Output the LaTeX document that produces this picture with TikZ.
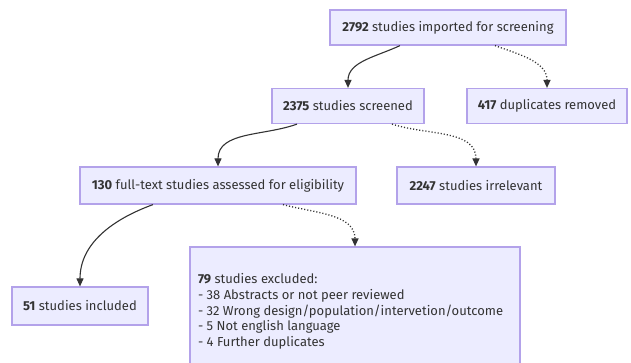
\documentclass[tikz,border=0pt]{standalone}
\usepackage{fontspec}
\setmainfont{Fira Sans}
\usepackage{xcolor}
\usetikzlibrary{arrows.meta}
\definecolor{boxfill}{HTML}{ECECFF}
\definecolor{boxline}{HTML}{B3A2EA}
\definecolor{ink}{HTML}{333333}

\begin{document}
\begin{tikzpicture}[x=1pt, y=-1pt,
  flow/.style={rectangle, draw=boxline, fill=boxfill, line width=1.2pt,
    inner sep=0pt, align=center, font=\fontsize{13}{15}\selectfont, text=ink},
  arr/.style={-{Stealth[length=8pt, width=7pt, inset=0pt]}, line width=1.1pt, color=ink},
  skip/.style={arr, dotted, line width=1.3pt},
]
  \useasboundingbox (0,0) rectangle (631,363);

  \node[flow, minimum width=236pt, minimum height=35pt] (imported) at (448,27.5)
    {\textbf{2792} studies imported for screening};
  \node[flow, minimum width=152pt, minimum height=35pt] (screened) at (348,106)
    {\textbf{2375} studies screened};
  \node[flow, minimum width=160pt, minimum height=35pt] (dupes) at (547,106)
    {\textbf{417} duplicates removed};
  \node[flow, minimum width=276pt, minimum height=37pt] (fulltext) at (218,185.5)
    {\textbf{130} full-text studies assessed for eligibility};
  \node[flow, minimum width=158pt, minimum height=37pt] (irrel) at (476,185.5)
    {\textbf{2247} studies irrelevant};
  \node[flow, minimum width=136pt, minimum height=38pt] (included) at (80,306)
    {\textbf{51} studies included};
  \node[flow, minimum width=330pt, minimum height=129pt, align=left,
    font=\fontsize{13}{15.8}\selectfont] (excluded) at (355,311.5)
    {\makebox[314pt][l]{\textbf{79} studies excluded:}\\
     - 38 Abstracts or not peer reviewed\\
     - 32 Wrong design/population/intervetion/outcome\\
     - 5 Not english language\\
     - 4 Further duplicates};

  \draw[arr]  ([xshift=-48pt]imported.south) to[out=-155, in=90] (screened.north);
  \draw[skip] ([xshift=47pt]imported.south)  to[out=-20, in=90]  (dupes.north);
  \draw[arr]  ([xshift=-51pt]screened.south) to[out=-160, in=90] (fulltext.north);
  \draw[skip] ([xshift=44pt]screened.south)  to[out=-18, in=90]  (irrel.north);
  \draw[arr]  ([xshift=-65pt]fulltext.south) to[out=-160, in=90] (included.north);
  \draw[skip] ([xshift=65pt]fulltext.south)  to[out=-15, in=90]  (excluded.north);
\end{tikzpicture}
\end{document}
